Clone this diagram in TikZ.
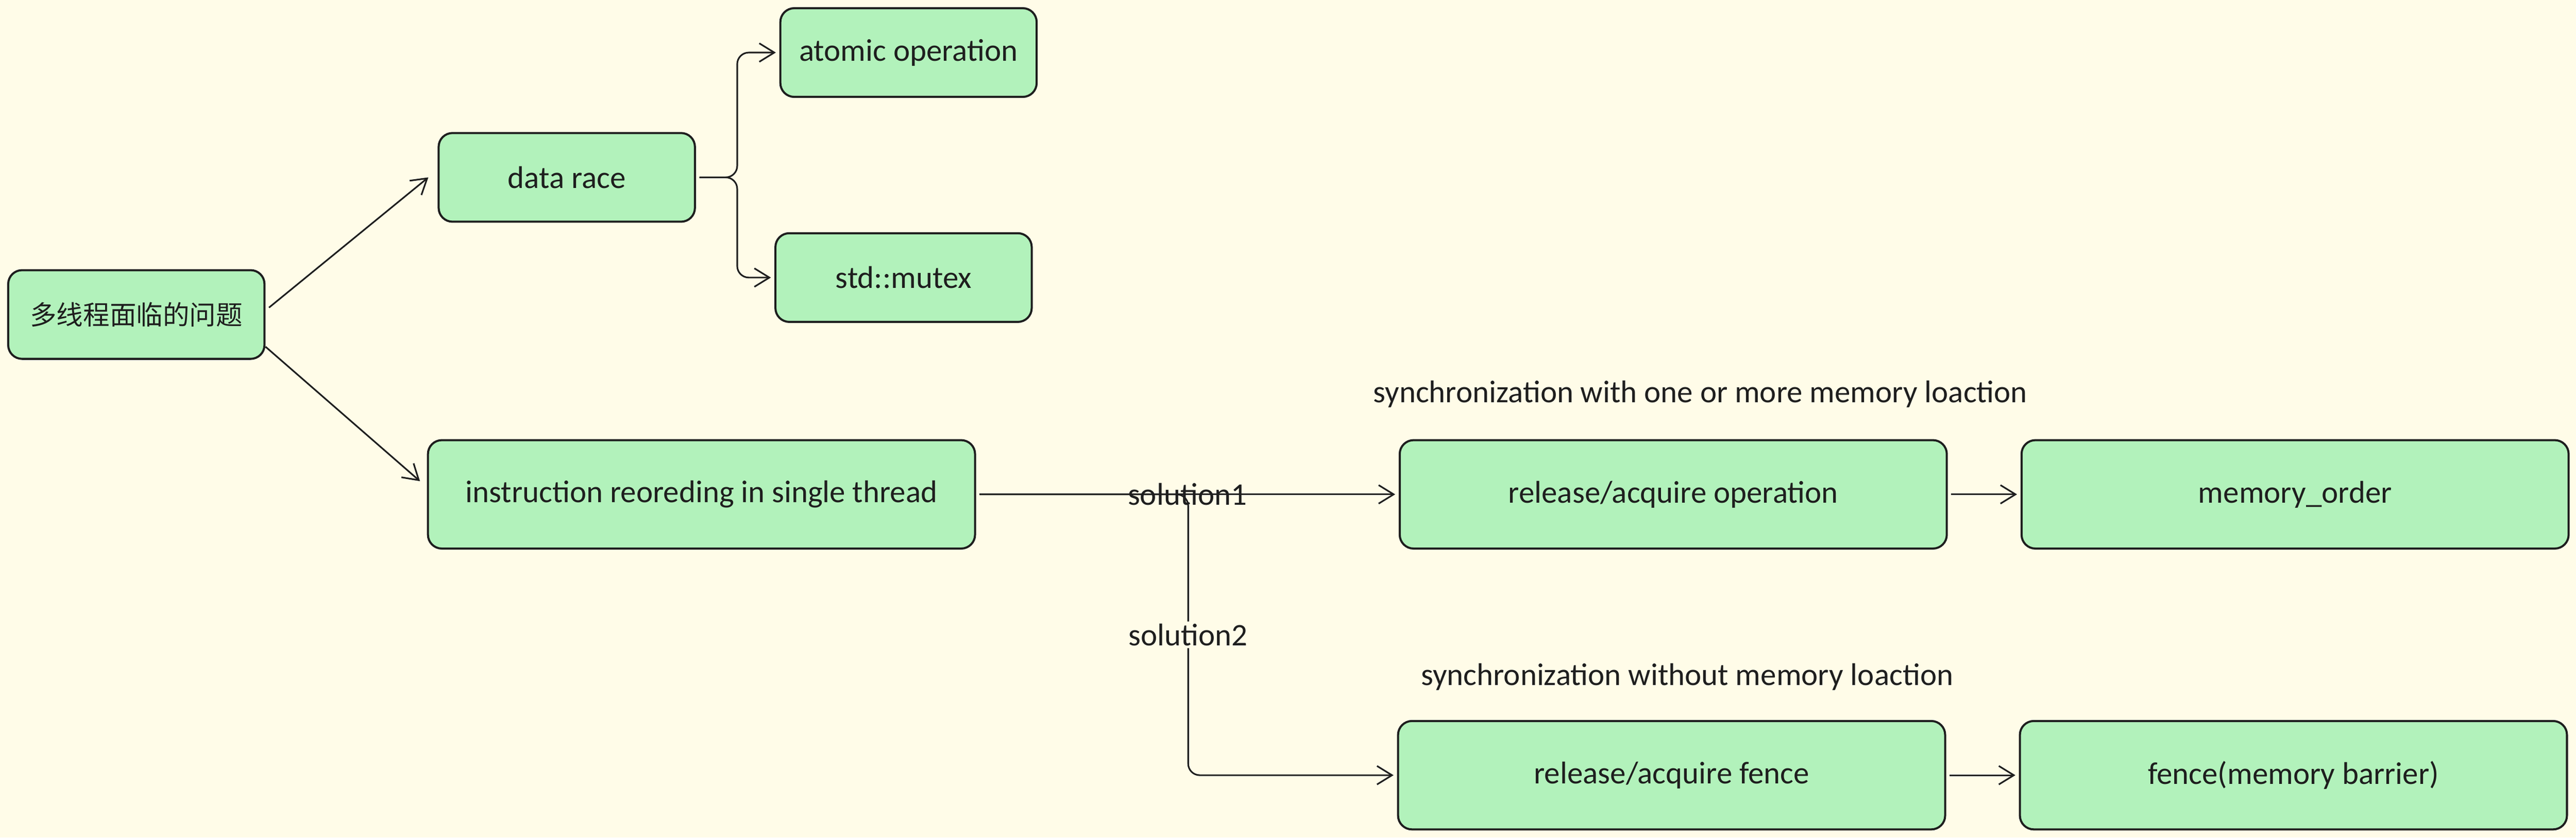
\documentclass[tikz,border=0pt]{standalone}
\usepackage{fontspec}
\setmainfont{Carlito}
\newfontfamily\cjkfont{Noto Sans CJK SC}
\usetikzlibrary{arrows.meta}
\definecolor{paper}{HTML}{FFFCE8}
\definecolor{boxgreen}{HTML}{B2F2BB}
\definecolor{ink}{HTML}{1E1E1E}
\begin{document}
\begin{tikzpicture}[x=0.025cm, y=-0.025cm,
        box/.style={draw=ink, line width=0.9pt, fill=boxgreen, rounded corners=6pt,
            minimum width=156*0.025cm, minimum height=54*0.025cm, inner sep=0pt,
            font=\fontsize{13.6}{16}\selectfont, text=ink},
        widebox/.style={box, minimum width=333*0.025cm, minimum height=66*0.025cm},
        arr/.style={draw=ink, line width=0.7pt, -{Straight Barb[length=6.5pt, width=8pt]}},
        lbl/.style={font=\fontsize{13.6}{16}\selectfont, text=ink, inner sep=1pt}]
        % Hintergrund
        \fill[paper] (0,0) rectangle (1568,510);
        \useasboundingbox (0,0) rectangle (1568,510);

        % Knoten
        \node[box] (root) at (83,191.5) {\cjkfont\fontsize{11.5}{14}\selectfont 多线程面临的问题};
        \node[box] (race) at (345,108) {data race};
        \node[box] (atomic) at (553,32) {atomic operation};
        \node[box] (mutex) at (550,169) {std::mutex};
        \node[widebox] (reorder) at (427,301) {instruction reoreding in single thread};
        \node[widebox] (relop) at (1018.5,301) {release/acquire operation};
        \node[widebox] (order) at (1397,301) {memory\_order};
        \node[widebox] (relfence) at (1017.5,472) {release/acquire fence};
        \node[widebox] (barrier) at (1396,472) {fence(memory barrier)};

        % Beschriftungen
        \node[lbl] (withloc) at (1035,240) {synchronization with one or more memory loaction};
        \node[lbl] (noloc) at (1027,412) {synchronization without memory loaction};

        % Pfeile
        \draw[arr] ([xshift=1.5pt, yshift=3pt]root.east) -- ([xshift=-4pt]race.west);
        \draw[arr] ([yshift=5.7pt]root.south east) -- ([xshift=-3pt, yshift=5.7pt]reorder.west);
        \draw[arr, rounded corners=5pt] ([xshift=1.5pt]race.east) -- ++(23,0) |- ([xshift=-1.5pt]atomic.west);
        \draw[arr, rounded corners=5pt] ([xshift=1.5pt]race.east) -- ++(23,0) |- ([xshift=-1.5pt]mutex.west);
        \draw[arr] ([xshift=1.5pt]reorder.east) -- node[lbl] {solution1} ([xshift=-1.5pt]relop.west);
        \draw[arr, rounded corners=5pt] ([xshift=1.5pt]reorder.east) -- ++(127,0)
            |- node[lbl, pos=0.25, fill=paper] {solution2} ([xshift=-1.5pt]relfence.west);
        \draw[arr] ([xshift=1.5pt]relop.east) -- ([xshift=-1.5pt]order.west);
        \draw[arr] ([xshift=1.5pt]relfence.east) -- ([xshift=-1.5pt]barrier.west);
\end{tikzpicture}
\end{document}
